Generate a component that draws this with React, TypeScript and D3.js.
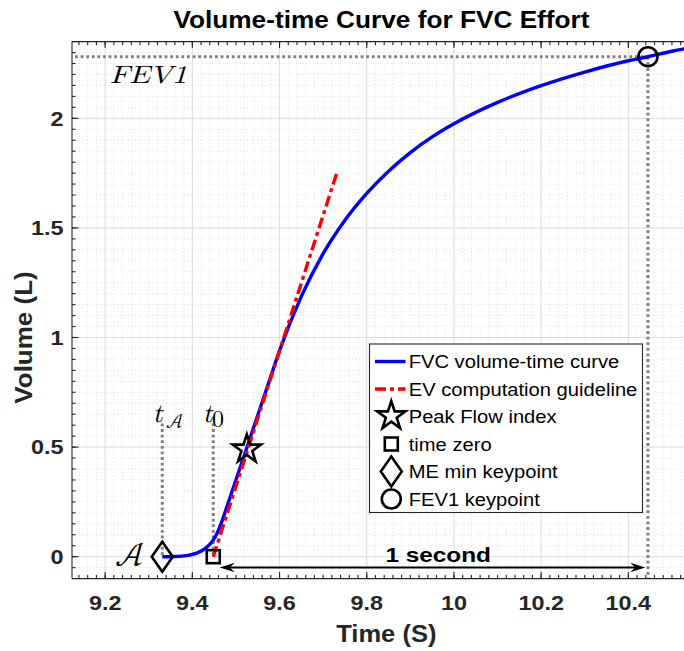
import React from "react";
import * as d3 from "d3";

// ---------- data ----------
const timeS = [9.331, 9.36, 9.39, 9.41, 9.43, 9.445, 9.456, 9.468, 9.48, 9.5, 9.525, 9.55, 9.575, 9.6, 9.65, 9.7, 9.75, 9.8, 9.85, 9.9, 9.95, 10.0, 10.1, 10.2, 10.3, 10.4, 10.445, 10.5, 10.55];
const volumeL = [0.0, 0.001, 0.006, 0.016, 0.038, 0.068, 0.104, 0.162, 0.232, 0.35, 0.497, 0.645, 0.793, 0.94, 1.1875, 1.3825, 1.535, 1.6575, 1.7588, 1.8438, 1.915, 1.975, 2.0725, 2.149, 2.211, 2.2625, 2.281, 2.306, 2.325];
const guideT = [9.448, 9.731];
const guideV = [0.0, 1.749];
const tA = 9.331;
const t0 = 9.448;
const peakFlowT = 9.525;
const peakFlowV = 0.497;
const fev1T = 10.445;
const fev1V = 2.281;
const xTicks = [9.2, 9.4, 9.6, 9.8, 10, 10.2, 10.4];
const xTickLabels = ["9.2", "9.4", "9.6", "9.8", "10", "10.2", "10.4"];
const yTicks = [0, 0.5, 1, 1.5, 2];
const yTickLabels = ["0", "0.5", "1", "1.5", "2"];
const legendLabels = ["FVC volume-time curve", "EV computation guideline", "Peak Flow index", "time zero", "ME min keypoint", "FEV1 keypoint"];

// ---------- layout ----------
const W = 684, H = 651;
const L = 72, R = 692, T = 41.6, B = 578.6;
const x = d3.scaleLinear().domain([9.124, 10.546]).range([L, R]);
const y = d3.scaleLinear().domain([-0.1, 2.35]).range([B, T]);

const AX = "#262626";
const SANS = "'Liberation Sans', Arial, Helvetica, sans-serif";
const SERIF = "'Latin Modern Math', 'DejaVu Serif', 'Liberation Serif', serif";

const xMinor = d3.range(9.14, 10.545, 0.02);
const yMinor = d3.range(-0.05, 2.351, 0.05);

const diamondPath = "M0,-15L10.5,0L0,15L-10.5,0Z";
const starPath = d3.symbol(d3.symbolStar, 250)() as string;

function Marker({ kind, cx, cy }: { kind: string; cx: number; cy: number }) {
  const common = { fill: "none", stroke: "#000", strokeWidth: 2.6, strokeLinejoin: "miter" as const };
  if (kind === "star") return <path d={starPath} transform={`translate(${cx},${cy + 1.5})`} {...common} />;
  if (kind === "square") return <rect x={cx - 6.5} y={cy - 6.5} width={13} height={13} {...common} />;
  if (kind === "diamond") return <path d={diamondPath} transform={`translate(${cx},${cy})`} {...common} />;
  return <circle cx={cx} cy={cy} r={9.5} {...common} />;
}

export default function App() {
  const curve = d3
    .line<number>()
    .x((_, i) => x(timeS[i]))
    .y((d) => y(d))
    .curve(d3.curveMonotoneX)(volumeL) as string;
  const guide = d3
    .line<number>()
    .x((_, i) => x(guideT[i]))
    .y((d) => y(d))(guideV) as string;

  const dotted = { stroke: "#808080", strokeWidth: 3, strokeDasharray: "2.8,2.8", fill: "none" };
  const arrowY = 567.5;
  const aL = x(t0) + 6.5;
  const aR = x(t0 + 1) - 4;

  const legX = 369.5, legY = 344, legW = 273, legH = 168.5;
  const rowY = (i: number) => 361.5 + i * 27.5;

  return (
    <svg width={W} height={H} style={{ position: "absolute", left: 0, top: 0, background: "#fff" }}>
      <defs>
        <clipPath id="plot">
          <rect x={L} y={T} width={R - L} height={B - T} />
        </clipPath>
      </defs>
      <rect x={0} y={0} width={W} height={H} fill="#fff" />
      {/* minor grid */}
      <g stroke="#d9d9d9" strokeWidth={0.8} strokeDasharray="1,2.5">
        {xMinor.map((v, i) => (
          <line key={"xm" + i} x1={x(v)} x2={x(v)} y1={T} y2={B} />
        ))}
        {yMinor.map((v, i) => (
          <line key={"ym" + i} x1={L} x2={R} y1={y(v)} y2={y(v)} />
        ))}
      </g>
      {/* major grid */}
      <g stroke="#dedede" strokeWidth={1}>
        {xTicks.map((v, i) => (
          <line key={"xg" + i} x1={x(v)} x2={x(v)} y1={T} y2={B} />
        ))}
        {yTicks.map((v, i) => (
          <line key={"yg" + i} x1={L} x2={R} y1={y(v)} y2={y(v)} />
        ))}
      </g>

      <g clipPath="url(#plot)">
        {/* reference dotted lines */}
        <line x1={L + 3} x2={x(fev1T)} y1={y(fev1V)} y2={y(fev1V)} {...dotted} />
        <line x1={x(fev1T)} x2={x(fev1T)} y1={y(fev1V)} y2={B} {...dotted} />
        <line x1={x(tA)} x2={x(tA)} y1={423.5} y2={y(0)} {...dotted} />
        <line x1={x(t0)} x2={x(t0)} y1={423.5} y2={y(0)} {...dotted} />
        {/* curve */}
        <path d={curve} fill="none" stroke="#0000ff" strokeWidth={3.4} />
        <path d={guide} fill="none" stroke="#ff0000" strokeWidth={3.4} strokeDasharray="11,4,4,4" />
        {/* markers */}
        <Marker kind="star" cx={x(peakFlowT)} cy={y(peakFlowV)} />
        <Marker kind="square" cx={x(t0)} cy={y(0)} />
        <Marker kind="diamond" cx={x(tA)} cy={y(0)} />
        <Marker kind="circle" cx={x(fev1T)} cy={y(fev1V)} />
        {/* one-second arrow */}
        <line x1={aL + 8} x2={aR - 8} y1={arrowY} y2={arrowY} stroke="#000" strokeWidth={1.8} />
        <path d={`M${aL},${arrowY}L${aL + 15},${arrowY - 4.8}L${aL + 10},${arrowY}L${aL + 15},${arrowY + 4.8}Z`} fill="#000" />
        <path d={`M${aR},${arrowY}L${aR - 15},${arrowY - 4.8}L${aR - 10},${arrowY}L${aR - 15},${arrowY + 4.8}Z`} fill="#000" />
      </g>

      {/* axes box */}
      <g stroke={AX} strokeWidth={1.1} fill="none">
        <line x1={L} x2={R} y1={B} y2={B} />
        <line x1={L} x2={R} y1={T} y2={T} />
        <line x1={L} x2={L} y1={T} y2={B} />
        {xTicks.map((v, i) => (
          <g key={"xt" + i}>
            <line x1={x(v)} x2={x(v)} y1={B} y2={B - 6.5} />
            <line x1={x(v)} x2={x(v)} y1={T} y2={T + 6.5} />
          </g>
        ))}
        {xMinor.map((v, i) => (
          <g key={"xmt" + i}>
            <line x1={x(v)} x2={x(v)} y1={B} y2={B - 3.5} />
            <line x1={x(v)} x2={x(v)} y1={T} y2={T + 3.5} />
          </g>
        ))}
        {yTicks.map((v, i) => (
          <line key={"yt" + i} x1={L} x2={L + 6.5} y1={y(v)} y2={y(v)} />
        ))}
        {yMinor.map((v, i) => (
          <line key={"ymt" + i} x1={L} x2={L + 3.5} y1={y(v)} y2={y(v)} />
        ))}
      </g>

      {/* tick labels */}
      <g fontFamily={SANS} fontWeight="bold" fontSize={20} fill={AX}>
        {xTicks.map((v, i) => (
          <text key={"xl" + i} textAnchor="middle" transform={`translate(${x(v)},610) scale(1.17,1)`}>
            {xTickLabels[i]}
          </text>
        ))}
        {yTicks.map((v, i) => (
          <text key={"yl" + i} textAnchor="end" transform={`translate(63.5,${y(v) + 7.2}) scale(1.17,1)`}>
            {yTickLabels[i]}
          </text>
        ))}
      </g>

      {/* title and axis labels */}
      <text fontFamily={SANS} fontWeight="bold" fontSize={23} fill="#000" textAnchor="middle" transform="translate(381.5,28.3) scale(1.14,1)">
        Volume-time Curve for FVC Effort
      </text>
      <text fontFamily={SANS} fontWeight="bold" fontSize={23} fill={AX} textAnchor="middle" transform="translate(386.3,641.5) scale(1.11,1)">
        Time (S)
      </text>
      <text fontFamily={SANS} fontWeight="bold" fontSize={23} fill={AX} textAnchor="middle" transform="translate(31.7,337.5) rotate(-90) scale(1.13,1)">
        Volume (L)
      </text>

      {/* annotations */}
      <text fontFamily={SERIF} fontStyle="italic" fontSize={25} x={110} y={83.3} textLength={77} lengthAdjust="spacingAndGlyphs" fill="#000">
        FEV1
      </text>
      <text fontFamily={SERIF} fontSize={34} x={115} y={566} fill="#000">𝒜</text>
      <text fontFamily={SERIF} fontStyle="italic" fontSize={27} x={152.5} y={421.7} fill="#000">t</text>
      <text fontFamily={SERIF} fontSize={20} x={166} y={428} fill="#000">𝒜</text>
      <text fontFamily={SERIF} fontStyle="italic" fontSize={27} x={202.5} y={421.7} fill="#000">t</text>
      <text fontFamily={SERIF} fontSize={24} x={212} y={426.5} fill="#000">0</text>
      <text fontFamily={SANS} fontWeight="bold" fontSize={21} fill="#000" textAnchor="middle" transform="translate(438.2,561.7) scale(1.16,1)">
        1 second
      </text>

      {/* legend */}
      <rect x={legX} y={legY} width={legW} height={legH} fill="#fff" stroke={AX} strokeWidth={1.1} />
      <line x1={375} x2={405.5} y1={rowY(0)} y2={rowY(0)} stroke="#0000ff" strokeWidth={3.4} />
      <line x1={375} x2={405.5} y1={rowY(1)} y2={rowY(1)} stroke="#ff0000" strokeWidth={3.4} strokeDasharray="11,4,4,4" />
      <Marker kind="star" cx={391.3} cy={rowY(2) - 2} />
      <Marker kind="square" cx={391.3} cy={rowY(3)} />
      <Marker kind="diamond" cx={391.3} cy={rowY(4)} />
      <Marker kind="circle" cx={391.3} cy={rowY(5)} />
      <g fontFamily={SANS} fontSize={18.5} fill="#000">
        {legendLabels.map((s, i) => (
          <text key={"lg" + i} transform={`translate(408.7,${rowY(i) + 6.7}) scale(1.09,1)`}>
            {s}
          </text>
        ))}
      </g>
    </svg>
  );
}
